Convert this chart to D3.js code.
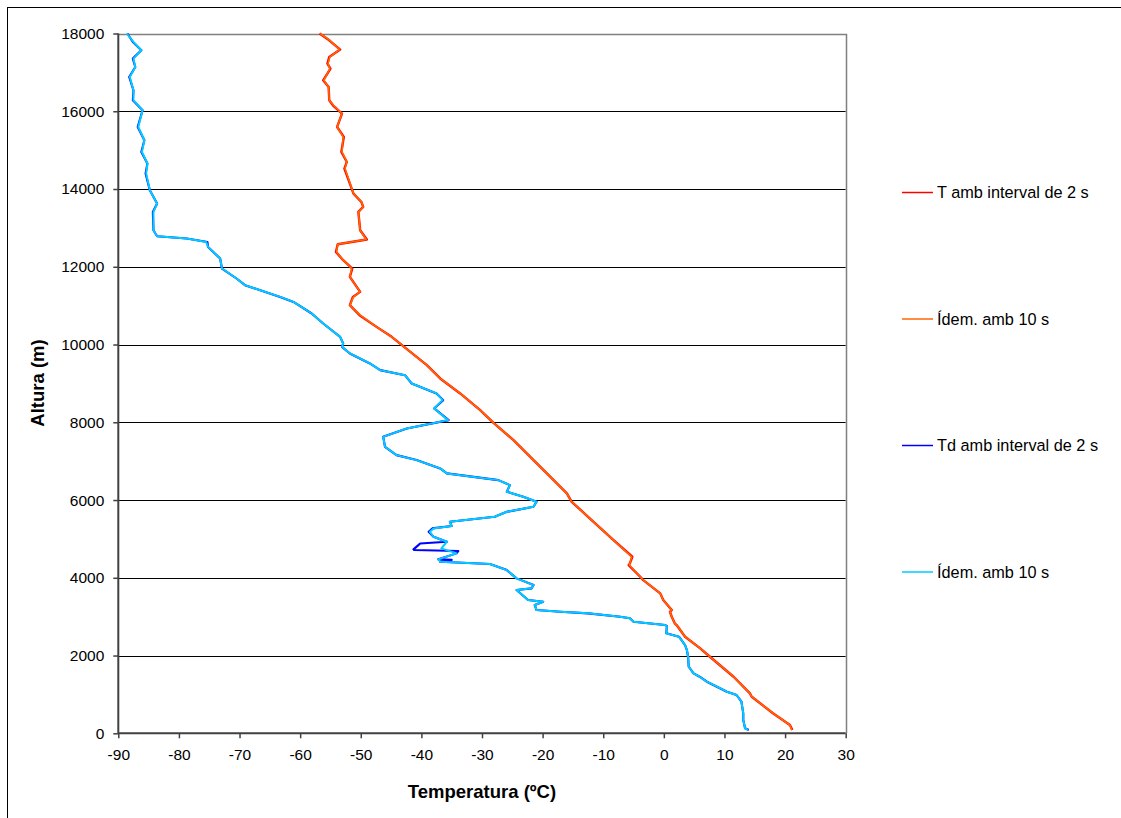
<!DOCTYPE html>
<html>
<head>
<meta charset="utf-8">
<script src="https://cdn.jsdelivr.net/npm/d3@7"></script>
<style>
  html, body { margin: 0; padding: 0; background: #fff; }
  svg { display: block; font-family: "Liberation Sans", Arial, sans-serif; }
</style>
</head>
<body>
<svg id="chart" width="1121" height="818"></svg>
<script>
// ---------------- DATA ----------------
const seriesNames = ["T amb interval de 2 s", "Ídem. amb 10 s", "Td amb interval de 2 s", "Ídem. amb 10 s"];
const xTicks = [-90, -80, -70, -60, -50, -40, -30, -20, -10, 0, 10, 20, 30];
const yTicks = [0, 2000, 4000, 6000, 8000, 10000, 12000, 14000, 16000, 18000];
const xTitle = "Temperatura (ºC)";
const yTitle = "Altura (m)";

// T ambient, 2 s interval
const t2Alt = [18000, 17825, 17586, 17396, 17225, 17097, 16796, 16624, 16282, 16154, 15940, 15596, 15339, 14953, 14696, 14526, 13883, 13667, 13539, 13410, 12940, 12700, 12580, 12382, 12169, 11955, 11739, 11354, 11225, 11012, 10755, 10454, 10197, 9958, 9469, 9127, 8742, 8312, 7986, 7541, 7027, 6685, 6171, 5955, 5440, 4970, 4541, 4371, 4327, 4026, 3941, 3599, 3427, 3170, 3126, 2998, 2828, 2784, 2484, 2185, 1969, 1455, 1028, 941, 514, 213, 85];
const t2Val = [-56.8, -55.2, -53.4, -55.2, -55.5, -55.0, -56.2, -55.3, -55.2, -54.6, -53.1, -53.9, -52.8, -53.2, -52.3, -52.7, -51.2, -49.9, -49.6, -50.4, -50.1, -49.0, -53.8, -54.1, -52.9, -51.4, -51.8, -50.1, -51.3, -51.8, -50.2, -47.4, -44.9, -43.0, -39.1, -36.9, -33.6, -30.3, -28.1, -24.8, -21.5, -19.3, -16.0, -15.2, -11.6, -8.3, -5.2, -5.6, -5.8, -3.9, -3.4, -0.6, -0.1, 1.3, 1.0, 1.3, 1.8, 2.1, 3.5, 6.0, 7.6, 11.5, 14.2, 14.5, 18.0, 20.8, 21.2];

// T ambient, 10 s interval
const t10Alt = [18000, 17825, 17586, 17396, 17225, 17097, 16796, 16624, 16282, 16154, 15940, 15596, 15339, 14953, 14696, 14526, 13883, 13667, 13539, 13410, 12940, 12700, 12580, 12382, 12169, 11955, 11739, 11354, 11225, 11012, 10755, 10454, 10197, 9958, 9469, 9127, 8742, 8312, 7986, 7541, 7027, 6685, 6171, 5955, 5440, 4970, 4541, 4371, 4327, 4026, 3941, 3599, 3427, 3170, 3126, 2998, 2828, 2784, 2484, 2185, 1969, 1455, 1028, 941, 514, 213, 85];
const t10Val = [-56.7, -55.1, -53.5, -55.1, -55.4, -55.1, -56.1, -55.3, -55.2, -54.5, -53.1, -53.9, -52.9, -53.1, -52.3, -52.6, -51.2, -49.85, -49.6, -50.4, -50.1, -49.1, -53.8, -54.0, -52.9, -51.5, -51.8, -50.1, -51.2, -51.8, -50.1, -47.4, -44.9, -43.0, -39.1, -36.9, -33.6, -30.3, -28.1, -24.8, -21.5, -19.3, -16.0, -15.2, -11.6, -8.3, -5.3, -5.6, -5.7, -3.9, -3.4, -0.6, -0.1, 1.3, 1.0, 1.3, 1.8, 2.1, 3.5, 6.0, 7.6, 11.5, 14.2, 14.5, 18.05, 20.8, 21.1];

// Td (dew point), 2 s interval
const td2Alt = [18000, 17782, 17568, 17354, 17139, 16882, 16539, 16282, 16025, 15596, 15254, 14953, 14655, 14397, 13968, 13626, 13410, 12940, 12786, 12726, 12639, 12511, 12212, 11955, 11698, 11527, 11225, 11096, 10798, 10541, 10197, 10027, 9940, 9770, 9513, 9341, 9212, 8998, 8742, 8570, 8356, 8055, 7842, 7626, 7369, 7155, 7027, 6813, 6685, 6512, 6384, 6212, 6083, 5955, 5826, 5698, 5569, 5440, 5330, 5270, 5183, 5055, 4926, 4880, 4840, 4730, 4713, 4690, 4628, 4474, 4460, 4412, 4353, 4198, 3985, 3813, 3728, 3685, 3427, 3384, 3299, 3170, 3126, 3085, 2998, 2957, 2869, 2784, 2759, 2571, 2484, 2270, 2142, 1969, 1712, 1543, 1455, 1327, 1070, 985, 812, 514, 342, 129, 85];
const td2Val = [-88.5, -87.6, -86.2, -87.6, -87.2, -88.2, -87.5, -87.6, -86.0, -86.8, -85.7, -86.2, -85.2, -85.5, -84.8, -83.6, -84.3, -84.2, -83.6, -78.7, -75.3, -75.2, -73.2, -72.9, -70.5, -69.1, -63.3, -61.1, -58.1, -56.2, -53.4, -52.9, -53.1, -51.8, -48.5, -46.8, -42.7, -41.6, -37.5, -36.4, -37.9, -35.5, -42.4, -46.3, -46.0, -44.1, -40.8, -36.9, -35.8, -27.3, -25.4, -25.9, -23.2, -21.0, -21.5, -25.9, -27.9, -35.3, -35.0, -38.2, -38.8, -38.0, -35.8, -40.2, -40.5, -41.3, -41.2, -33.9, -34.2, -37.2, -35.0, -36.9, -28.7, -25.9, -24.3, -21.5, -21.8, -24.3, -22.4, -19.9, -21.3, -21.0, -17.1, -12.5, -7.2, -5.6, -5.0, 0.2, 0.5, 0.4, 2.5, 3.5, 3.8, 4.0, 4.1, 4.9, 5.9, 7.1, 10.4, 12.0, 12.8, 13.1, 13.1, 13.4, 14.0];

// Td (dew point), 10 s interval
const td10Alt = [18000, 17782, 17568, 17354, 17139, 16882, 16539, 16282, 16025, 15596, 15254, 14953, 14655, 14397, 13968, 13626, 13410, 12940, 12786, 12726, 12639, 12511, 12212, 11955, 11698, 11527, 11225, 11096, 10798, 10541, 10197, 10027, 9940, 9770, 9513, 9341, 9212, 8998, 8742, 8570, 8356, 8055, 7842, 7626, 7369, 7155, 7027, 6813, 6685, 6512, 6384, 6212, 6083, 5955, 5826, 5698, 5569, 5440, 5330, 5270, 5183, 5055, 4926, 4756, 4628, 4474, 4412, 4353, 4198, 3985, 3813, 3728, 3685, 3427, 3384, 3299, 3170, 3126, 3085, 2998, 2957, 2869, 2784, 2759, 2571, 2484, 2270, 2142, 1969, 1712, 1543, 1455, 1327, 1070, 985, 812, 514, 342, 129, 85];
const td10Val = [-88.6, -87.5, -86.2, -87.5, -87.2, -88.1, -87.5, -87.5, -86.0, -86.7, -85.7, -86.1, -85.2, -85.4, -84.8, -83.6, -84.2, -84.2, -83.6, -78.7, -75.5, -75.2, -73.2, -72.9, -70.5, -69.1, -63.3, -61.1, -58.1, -56.2, -53.4, -52.9, -53.1, -51.8, -48.5, -46.8, -42.7, -41.6, -37.5, -36.5, -37.9, -35.6, -42.4, -46.3, -46.0, -44.1, -40.8, -36.9, -35.8, -27.3, -25.4, -25.9, -23.2, -21.0, -21.5, -25.9, -27.9, -35.3, -35.0, -38.0, -38.6, -38.0, -35.8, -36.7, -34.2, -37.2, -36.9, -28.7, -25.9, -24.3, -21.5, -21.8, -24.3, -22.4, -19.9, -21.3, -21.0, -17.1, -12.5, -7.2, -5.6, -5.0, 0.2, 0.5, 0.4, 2.5, 3.5, 3.8, 4.0, 4.1, 4.9, 5.9, 7.1, 10.4, 12.0, 12.8, 13.1, 13.1, 13.4, 13.9];

const seriesColors = ["#FF0000", "#FF6600", "#0000FF", "#00CCFF"];

// ---------------- CHART ----------------
const svg = d3.select("#chart");
const W = 1121, H = 818;
const plot = { left: 118.3, right: 845.7, top: 33.5, bottom: 733.3 };

const x = d3.scaleLinear().domain([-90, 30]).range([plot.left, plot.right]);
const y = d3.scaleLinear().domain([0, 18000]).range([plot.bottom, plot.top]);

// outer chart border (only top/left fall inside view)
svg.append("rect")
  .attr("x", 7.5).attr("y", 7.5)
  .attr("width", W + 10).attr("height", H + 10)
  .attr("fill", "#fff").attr("stroke", "#000").attr("stroke-width", 1);

// horizontal gridlines
svg.append("g")
  .selectAll("line")
  .data(yTicks.filter(v => v > 0 && v < 18000))
  .join("line")
  .attr("x1", plot.left).attr("x2", plot.right)
  .attr("y1", d => Math.round(y(d)) + 0.5).attr("y2", d => Math.round(y(d)) + 0.5)
  .attr("stroke", "#000").attr("stroke-width", 1);

// plot area top/right border (gray)
svg.append("path")
  .attr("d", `M${plot.left},${Math.round(plot.top) + 0.5} H${Math.round(plot.right) + 0.5} V${plot.bottom}`)
  .attr("fill", "none").attr("stroke", "#808080").attr("stroke-width", 1.5);

// series
const series = [
  { alt: t2Alt, val: t2Val, color: seriesColors[0], w: 2.4 },
  { alt: t10Alt, val: t10Val, color: seriesColors[1], w: 1.6 },
  { alt: td2Alt, val: td2Val, color: seriesColors[2], w: 2.1 },
  { alt: td10Alt, val: td10Val, color: seriesColors[3], w: 2 }
];
const line = d3.line().x(d => x(d[1])).y(d => y(d[0]));
svg.append("defs").append("clipPath").attr("id", "pc")
  .append("rect").attr("x", plot.left).attr("y", plot.top - 3)
  .attr("width", plot.right - plot.left).attr("height", plot.bottom - plot.top + 3);
const sg = svg.append("g").attr("clip-path", "url(#pc)");
series.forEach(s => {
  sg.append("path")
    .datum(s.alt.map((a, i) => [a, s.val[i]]))
    .attr("d", line)
    .attr("fill", "none")
    .attr("stroke", s.color)
    .attr("stroke-width", s.w)
    .attr("stroke-linejoin", "round");
});

// axes
const fmt = d => String(d);
const xAxis = svg.append("g")
  .attr("transform", `translate(0,${plot.bottom})`)
  .call(d3.axisBottom(x).tickValues(xTicks).tickSize(5).tickPadding(11).tickFormat(fmt));
const yAxis = svg.append("g")
  .attr("transform", `translate(${plot.left},0)`)
  .call(d3.axisLeft(y).tickValues(yTicks).tickSize(5).tickPadding(9).tickFormat(fmt));
[xAxis, yAxis].forEach(a => {
  a.select(".domain").attr("stroke", "#404040").attr("stroke-width", 2);
  a.selectAll(".tick line").attr("stroke", "#404040").attr("stroke-width", 1.5);
  a.selectAll(".tick text").attr("fill", "#000")
    .style("font-family", "'Liberation Sans', Arial, sans-serif")
    .style("font-size", "15.5px");
});
xAxis.select(".domain").attr("d", `M${plot.left},0H${plot.right}`);
yAxis.select(".domain").attr("d", `M0,${plot.top}V${plot.bottom}`);

// axis titles
svg.append("text")
  .attr("x", 482).attr("y", 798)
  .attr("text-anchor", "middle")
  .style("font-weight", "bold").style("font-size", "18.5px")
  .text(xTitle);
svg.append("text")
  .attr("transform", "translate(44,383) rotate(-90)")
  .attr("text-anchor", "middle")
  .style("font-weight", "bold").style("font-size", "18.5px")
  .text(yTitle);

// legend
const legendY = [192.5, 319, 445.5, 572];
const lg = svg.append("g");
seriesNames.forEach((name, i) => {
  lg.append("line")
    .attr("x1", 902).attr("x2", 933)
    .attr("y1", legendY[i]).attr("y2", legendY[i])
    .attr("stroke", seriesColors[i]).attr("stroke-width", 1.5);
  lg.append("text")
    .attr("x", 937).attr("y", legendY[i])
    .attr("dy", "0.36em")
    .style("font-size", "16.3px")
    .text(name);
});
</script>
</body>
</html>
